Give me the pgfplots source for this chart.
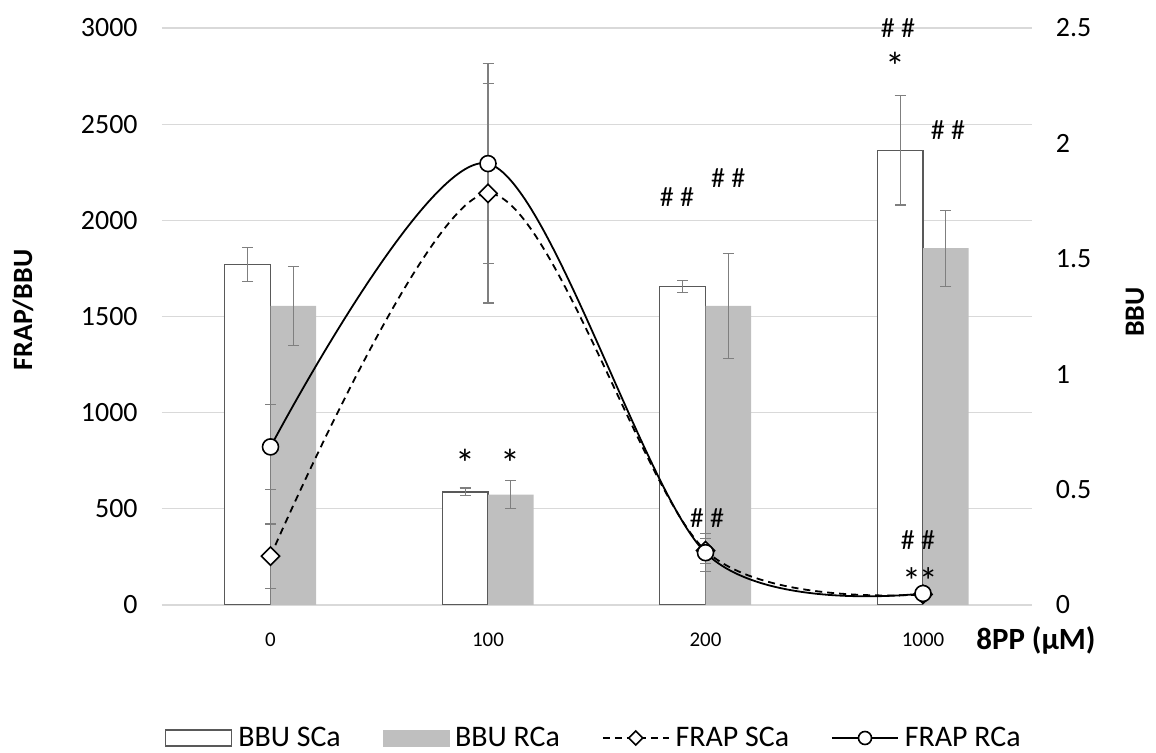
\documentclass[border=0pt]{standalone}
\usepackage{pgfplots}
\pgfplotsset{compat=1.18}
\usepackage{fontspec}
\setmainfont{Carlito}
\definecolor{gridc}{HTML}{D9D9D9}
\definecolor{barline}{HTML}{595959}
\definecolor{barfill}{HTML}{BFBFBF}
\definecolor{errc}{HTML}{7F7F7F}
\pgfplotsset{
  geom/.style={at={(161.75bp,148bp)}, anchor=south west, scale only axis,
    width=870bp, height=577bp, xmin=-0.5, xmax=3.5,
    axis line style={draw=none}, major tick length=0pt,
    /pgf/number format/assume math mode=true,
    /pgf/number format/1000 sep={}},
  errs/.style={error bars/.cd, y dir=both, y explicit,
    error bar style={errc, line width=1.1bp, solid},
    error mark options={rotate=90, errc, mark size=5.5bp, line width=1.1bp, solid},
    /pgfplots/.cd},
  sclegend/.style={legend image code/.code={\draw[mark repeat=2,mark phase=2,##1, mark size=5bp] plot coordinates {(0bp,0bp) (33bp,0bp) (66bp,0bp)};}},
  rclegend/.style={legend image code/.code={\draw[mark repeat=2,mark phase=2,##1, mark size=6.5bp] plot coordinates {(0bp,0bp) (33bp,0bp) (66bp,0bp)};}},
}
\begin{document}
\begin{tikzpicture}
% ---------- BBU bars (right axis) ----------
\begin{axis}[geom, ymin=0, ymax=2.5,
  xtick=\empty,
  ytick={0,0.5,1,1.5,2,2.5}, yticklabel pos=right, ytick pos=right,
  yticklabel style={anchor=west, inner sep=0pt, xshift=24bp, font=\fontsize{28}{32}\selectfont},
  extra y ticks={0,0.416667,0.833333,1.25,1.666667,2.083333,2.5},
  extra y tick labels={},
  extra y tick style={grid=major},
  grid style={gridc, line width=1.2bp},
]
\addplot[ybar, bar width=0.21, bar shift=-0.105, fill=white, draw=barline, line width=1.2bp]
  coordinates {(0,1.475) (1,0.490) (2,1.380) (3,1.970)};
\addplot[ybar, bar width=0.21, bar shift=0.105, fill=barfill, draw=none]
  coordinates {(0,1.296) (1,0.478) (2,1.296) (3,1.546)};
% error bars of the bars, at the bar centres
\addplot[draw=none, mark=none, errs]
  coordinates {(-0.105,1.475) +- (0,0.072) (0.895,0.490) +- (0,0.017) (1.895,1.380) +- (0,0.027) (2.895,1.970) +- (0,0.237)};
\addplot[draw=none, mark=none, errs]
  coordinates {(0.105,1.296) +- (0,0.172) (1.105,0.478) +- (0,0.061) (2.105,1.296) +- (0,0.228) (3.105,1.546) +- (0,0.165)};
\end{axis}
% ---------- FRAP lines (left axis) ----------
\begin{axis}[geom, ymin=0, ymax=3000, clip=false,
  ytick={0,500,...,3000},
  yticklabel style={anchor=east, inner sep=0pt, xshift=-24bp, font=\fontsize{28}{32}\selectfont},
  xtick={0,1,2,3}, xticklabels={0,100,200,1000},
  xticklabel style={anchor=center, inner sep=0pt, yshift=-35bp, font=\fontsize{21}{24}\selectfont},
  legend columns=4,
  legend style={at={(0.0037,-0.2305)}, anchor=west, draw=none, fill=none,
    font=\fontsize{30}{34}\selectfont, inner sep=0pt,
    nodes={inner xsep=6bp, inner ysep=0pt},
    /tikz/every even column/.append style={column sep=36bp}},
  legend cell align=left,
]
\addlegendimage{legend image code/.code={\draw[fill=white, draw=barline, line width=1.2bp] (0bp,-8bp) rectangle (66bp,8bp);}}
\addlegendentry{BBU SCa}
\addlegendimage{legend image code/.code={\fill[barfill] (0bp,-8bp) rectangle (66bp,8bp);}}
\addlegendentry{BBU RCa}
\addplot[black, line width=1.8bp, dash pattern=on 7bp off 5bp, smooth, tension=0.5,
  mark=square*, mark size=6.4bp, mark options={rotate=45, solid, fill=white, line width=1.6bp}, sclegend, errs]
  coordinates {(0,254) +- (0,167) (1,2140) +- (0,570) (2,283) +- (0,65) (3,55) +- (0,12)};
\addlegendentry{FRAP SCa}
\addplot[black, line width=1.8bp, smooth, tension=0.5,
  mark=*, mark size=8bp, mark options={solid, fill=white, line width=1.6bp}, rclegend, errs]
  coordinates {(0,822) +- (0,222) (1,2295) +- (0,520) (2,272) +- (0,100) (3,60) +- (0,10)};
\addlegendentry{FRAP RCa}
% significance marks
\begin{scope}[every node/.style={font=\fontsize{28}{30}\selectfont, inner sep=0pt}]
\node[font=\fontsize{40}{42}\selectfont] at (axis cs:0.895,735) {*};
\node[font=\fontsize{40}{42}\selectfont] at (axis cs:1.105,735) {*};
\node at (axis cs:1.869,2121) {\# \#};
\node at (axis cs:2.104,2220) {\# \#};
\node at (axis cs:2.885,3000) {\# \#};
\node[font=\fontsize{40}{42}\selectfont] at (axis cs:2.871,2800) {*};
\node at (axis cs:3.115,2470) {\# \#};
\node at (axis cs:2.007,452) {\# \#};
\node at (axis cs:2.977,338) {\# \#};
\node[font=\fontsize{38}{40}\selectfont] at (axis cs:2.986,125) {*\kern-2bp*};
\end{scope}
\end{axis}
% axis titles
\node[rotate=90, font=\fontsize{28}{32}\selectfont\bfseries] at (23bp,443bp) {FRAP/BBU};
\node[rotate=90, font=\fontsize{28}{32}\selectfont\bfseries] at (1135bp,441bp) {BBU};
\node[font=\fontsize{31}{34}\selectfont\bfseries] at (1036bp,113bp) {8PP (µM)};
\pgfresetboundingbox
\path (0bp,0bp) rectangle (1156bp,753bp);
\end{tikzpicture}
\end{document}
